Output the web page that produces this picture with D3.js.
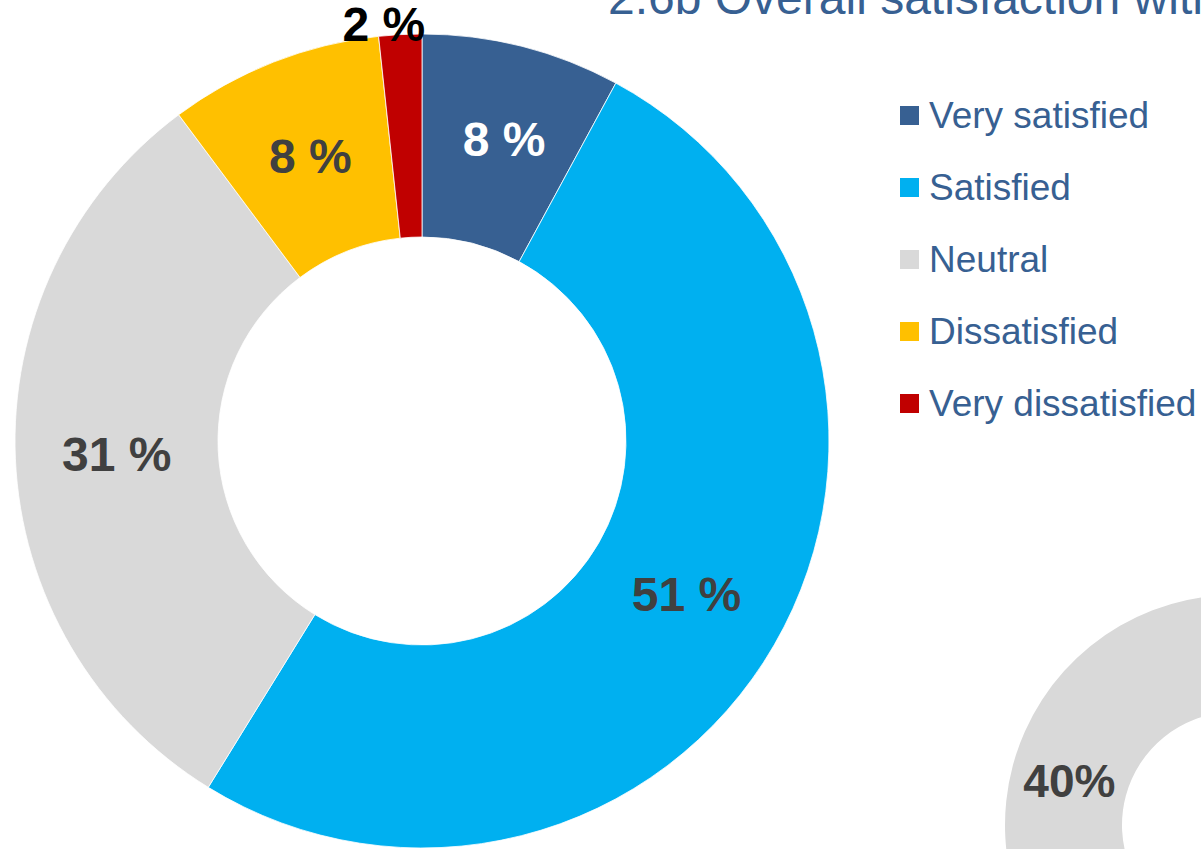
<!DOCTYPE html>
<html>
<head>
  <meta charset="utf-8" />
  <script src="https://d3js.org/d3.v7.min.js"></script>
  <style>
    body {
      margin: 0;
      padding: 0;
      background-color: #ffffff;
      overflow: hidden;
    }
    text {
      font-family: "Liberation Sans", Arial, sans-serif;
    }
    .slice-label {
      font-size: 48px;
      font-weight: bold;
      text-anchor: middle;
    }
    .legend-label {
      font-size: 37px;
      fill: #376092;
    }
  </style>
</head>
<body>
  <svg id="chart" width="1201" height="849"></svg>
  <script>
    // data
    const categories = ["Very satisfied", "Satisfied", "Neutral", "Dissatisfied", "Very dissatisfied"];
    const shares = [7.9, 50.9, 31.0, 8.5, 1.7];
    const shareLabels = ["8 %", "51 %", "31 %", "8 %", "2 %"];
    const sliceColors = ["#376092", "#00b0f0", "#d9d9d9", "#ffc000", "#c00000"];
    const labelColors = ["#ffffff", "#404040", "#404040", "#404040", "#000000"];

    // second chart, only its neutral slice shows in the frame
    const secondCategory = "Neutral";
    const secondShare = 40;
    const secondLabel = "40%";

    const titleText = "2.6b Overall satisfaction with";

    const svg = d3.select("#chart");

    // title (mostly cut off at the top)
    svg.append("text")
      .attr("x", 608)
      .attr("y", 14)
      .style("font-size", "48px")
      .style("fill", "#376092")
      .text(titleText);

    // main donut
    const cx = 422, cy = 441;
    const outerR = 407, innerR = 204;

    const data = categories.map((c, i) => ({ cat: c, value: shares[i], label: shareLabels[i], color: sliceColors[i], lc: labelColors[i] }));

    const pie = d3.pie().sort(null).value(d => d.value);
    const arc = d3.arc().innerRadius(innerR).outerRadius(outerR);
    const outsideArc = d3.arc().innerRadius(outerR + 10).outerRadius(outerR + 10);

    const g = svg.append("g").attr("transform", `translate(${cx},${cy})`);
    const arcs = pie(data);

    g.selectAll(".slice")
      .data(arcs)
      .enter()
      .append("path")
      .attr("class", "slice")
      .attr("d", arc)
      .attr("fill", d => d.data.color)
      .attr("stroke", "#ffffff")
      .attr("stroke-width", 0.8);

    g.selectAll(".slice-label")
      .data(arcs)
      .enter()
      .append("text")
      .attr("class", "slice-label")
      .attr("transform", d => {
        // tiny slice gets its label outside the ring
        const p = d.data.value < 3 ? outsideArc.centroid(d) : arc.centroid(d);
        if (d.data.value < 3) p[0] -= 16;
        if (d.index === 0) { p[0] += 7; p[1] -= 6; }
        return `translate(${p[0]},${p[1]})`;
      })
      .attr("dy", "0.35em")
      .attr("fill", d => d.data.lc)
      .text(d => d.data.label);

    // legend
    const legend = svg.append("g").attr("transform", "translate(900,106)");
    const rows = legend.selectAll(".row")
      .data(data)
      .enter()
      .append("g")
      .attr("transform", (d, i) => `translate(0,${i * 72})`);
    rows.append("rect")
      .attr("width", 19)
      .attr("height", 19)
      .attr("fill", d => d.color);
    rows.append("text")
      .attr("class", "legend-label")
      .attr("x", 29)
      .attr("y", 22)
      .text(d => d.cat);

    // second donut, bottom right corner
    const cx2 = 1235, cy2 = 825;
    const arc2 = d3.arc().innerRadius(113).outerRadius(230);
    const start2 = 213 * Math.PI / 180;
    const slice2 = { startAngle: start2, endAngle: start2 + secondShare / 100 * 2 * Math.PI };
    const g2 = svg.append("g").attr("transform", `translate(${cx2},${cy2})`);
    g2.append("path")
      .attr("d", arc2(slice2))
      .attr("fill", "#d9d9d9")
      .append("title").text(secondCategory);
    const c2 = arc2.centroid(slice2);
    g2.append("text")
      .attr("class", "slice-label")
      .attr("x", c2[0])
      .attr("y", c2[1])
      .attr("dy", "0.35em")
      .attr("fill", "#404040")
      .style("font-size", "46px")
      .text(secondLabel);
  </script>
</body>
</html>
